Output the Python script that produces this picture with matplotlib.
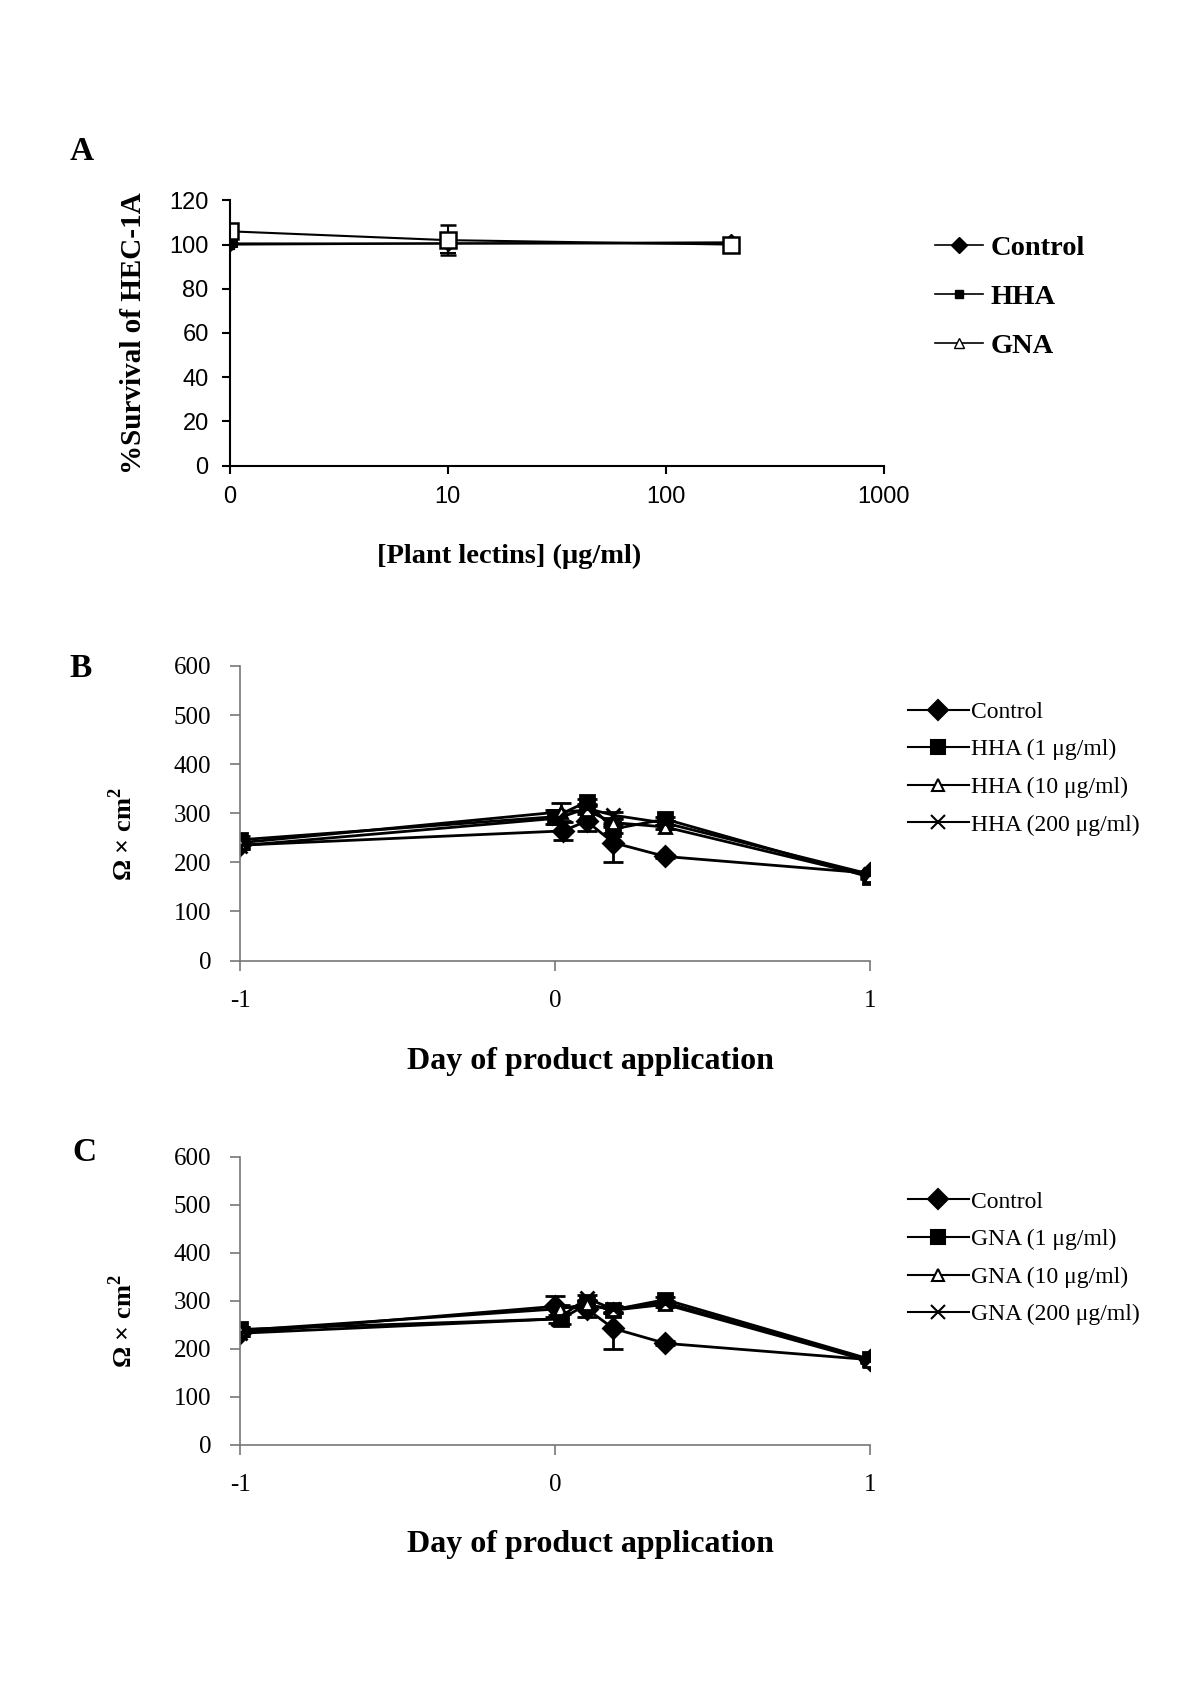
"""
Lectin toxicity on HEC-1A cells and transepithelial resistance (panels A-C)
"""

import matplotlib.pyplot as plt
from matplotlib.lines import Line2D
import numpy as np

# ---- Panel A: survival vs lectin concentration
conc = np.array([0, 10, 200])
surv_control = [100.5, 100.5, 101]
surv_control_err = [1, 4.5, 1]
surv_hha = [100, 100.5, 100.5]
surv_hha_err = [1, 1, 1]
surv_gna = [106, 102, 100]
surv_gna_err = [1.5, 6.7, 1]
a_xticks = [1, 10, 100, 1000]
a_xticklabels = ['0', '10', '100', '1000']
a_legend = ['Control', 'HHA', 'GNA']

# ---- Panel B: TEER with HHA
b_labels = ['Control', 'HHA (1 \u03bcg/ml)', 'HHA (10 \u03bcg/ml)', 'HHA (200 \u03bcg/ml)']
b_x = [[-1, 0.025, 0.1, 0.185, 0.35, 1],
       [-1, 0.0, 0.1, 0.185, 0.35, 1],
       [-1, 0.02, 0.1, 0.185, 0.35, 1],
       [-1, 0.01, 0.1, 0.185, 0.35, 1]]
b_y = [[235, 264, 284, 240, 212, 178],
       [246, 293, 323, 268, 288, 170],
       [240, 303, 306, 281, 272, 172],
       [234, 290, 310, 296, 280, 176]]
b_err = [[8, 18, 20, 40, 4, 4],
         [8, 14, 6, 8, 4, 4],
         [8, 18, 8, 8, 4, 4],
         [6, 8, 8, 6, 4, 4]]

# ---- Panel C: TEER with GNA
c_labels = ['Control', 'GNA (1 \u03bcg/ml)', 'GNA (10 \u03bcg/ml)', 'GNA (200 \u03bcg/ml)']
c_x = [[-1, 0.0, 0.1, 0.185, 0.35, 1],
       [-1, 0.02, 0.1, 0.185, 0.35, 1],
       [-1, 0.015, 0.1, 0.185, 0.35, 1],
       [-1, 0.01, 0.1, 0.185, 0.35, 1]]
c_y = [[233, 288, 283, 242, 211, 177],
       [240, 262, 292, 281, 302, 178],
       [238, 283, 292, 280, 292, 174],
       [232, 262, 305, 282, 296, 176]]
c_err = [[6, 22, 18, 42, 4, 4],
         [6, 10, 8, 6, 6, 4],
         [6, 8, 8, 6, 6, 4],
         [6, 8, 6, 6, 4, 4]]

day_ticks = [-1, 0, 1]
teer_ticks = [0, 100, 200, 300, 400, 500, 600]

SERIF = 'Liberation Serif'
SANS = 'Liberation Sans'

plt.rcParams['axes.unicode_minus'] = False
plt.rcParams['mathtext.fontset'] = 'custom'
plt.rcParams['mathtext.bf'] = 'Liberation Serif:bold'

fig = plt.figure(figsize=(12, 16.98), dpi=100)

# ================= Panel A =================
axA = fig.add_axes([0.1913, 0.7258, 0.5452, 0.1562])
xpos = np.where(conc == 0, 1, conc)
axA.errorbar(xpos, surv_control, yerr=surv_control_err, color='black', marker='D',
             markersize=8, linewidth=1.5, capsize=6, capthick=1.5, mfc='black')
axA.errorbar(xpos, surv_hha, yerr=surv_hha_err, color='black', marker='s',
             markersize=6, linewidth=1.5, capsize=6, capthick=1.5, mfc='black')
axA.errorbar(xpos, surv_gna, yerr=surv_gna_err, color='black', marker='s',
             markersize=11, linewidth=1.5, capsize=6, capthick=1.5, mfc='white',
             mew=1.8)
axA.set_xscale('log')
axA.set_xlim(1, 1000)
axA.set_ylim(0, 120)
axA.set_xticks(a_xticks)
axA.set_xticklabels(a_xticklabels)
axA.minorticks_off()
axA.set_yticks(range(0, 121, 20))
for s in ['top', 'right']:
    axA.spines[s].set_visible(False)
for s in ['left', 'bottom']:
    axA.spines[s].set_linewidth(1.5)
axA.tick_params(axis='both', direction='out', length=6, width=1.5, labelsize=17,
                pad=9)
for lab in axA.get_xticklabels() + axA.get_yticklabels():
    lab.set_fontfamily(SANS)
axA.set_ylabel('%Survival of HEC-1A', fontsize=21, fontweight='bold',
               fontfamily=SERIF, labelpad=16)
fig.text(470 / 1108, 1 - 514 / 1568, '[Plant lectins] (\u03bcg/ml)', fontsize=20.5,
         fontweight='bold', fontfamily=SERIF, ha='center', va='center')
handlesA = [Line2D([], [], color='black', marker='D', markersize=8, lw=1.2),
            Line2D([], [], color='black', marker='s', markersize=6, lw=1.2),
            Line2D([], [], color='black', marker='^', markersize=7, lw=1.2,
                   mfc='white')]
axA.legend(handlesA, a_legend, loc='upper left', bbox_to_anchor=(1.078, 0.87),
           frameon=False, handlelength=1.7, handletextpad=0.25,
           labelspacing=0.82, borderpad=0, borderaxespad=0,
           prop={'family': SERIF, 'weight': 'bold', 'size': 20.5})

fig.text(0.058, 1 - 140 / 1568, 'A', fontsize=24, fontweight='bold',
         fontfamily=SERIF, va='center')


def teer_panel(ax, xs, ys, errs, labels, leg_top):
    markers = [('D', 10, 'black'), ('s', 10, 'black'), ('^', 8, 'white'),
               ('x', 10, 'black')]
    handles = []
    for x, y, e, (m, ms, fc) in zip(xs, ys, errs, markers):
        ax.errorbar(x, y, yerr=e, color='black', marker=m, markersize=ms,
                    mfc=fc, mew=2, linewidth=2, capsize=7, capthick=2)
        handles.append(Line2D([], [], color='black', marker=m, markersize=ms,
                              mfc=fc, mew=1.5, lw=1.5))
    ax.set_xlim(-1, 1)
    ax.set_ylim(0, 600)
    ax.set_xticks(day_ticks)
    ax.set_yticks(teer_ticks)
    for s in ['top', 'right']:
        ax.spines[s].set_visible(False)
    for s in ['left', 'bottom']:
        ax.spines[s].set_color('#777777')
        ax.spines[s].set_linewidth(1.2)
    ax.tick_params(axis='both', direction='out', length=7, width=1.2,
                   color='#777777', labelsize=18, pad=14)
    for lab in ax.get_xticklabels() + ax.get_yticklabels():
        lab.set_fontfamily(SERIF)
    ax.set_xlabel('Day of product application', fontsize=23, fontweight='bold',
                  fontfamily=SERIF)
    ax.xaxis.set_label_coords(0.556, -0.295)
    ax.set_ylabel('\u03a9 \u00d7 cm$^{\\mathbf{2}}$', fontsize=19, fontweight='bold',
                  fontfamily=SERIF)
    ax.yaxis.set_label_coords(-0.165, 0.43)
    ax.legend(handles, labels, loc='upper left', bbox_to_anchor=(1.06, leg_top),
              frameon=False, handlelength=2.6, handletextpad=0.1,
              labelspacing=0.68, borderpad=0, borderaxespad=0,
              prop={'family': SERIF, 'size': 17})


# ================= Panel B =================
axB = fig.add_axes([0.2004, 0.4343, 0.5244, 0.1735])
teer_panel(axB, b_x, b_y, b_err, b_labels, 0.88)
fig.text(0.058, 1 - 617 / 1568, 'B', fontsize=24, fontweight='bold',
         fontfamily=SERIF, va='center')

# ================= Panel C =================
axC = fig.add_axes([0.2004, 0.1492, 0.5244, 0.1697])
teer_panel(axC, c_x, c_y, c_err, c_labels, 0.88)
fig.text(0.06, 1 - 1064 / 1568, 'C', fontsize=24, fontweight='bold',
         fontfamily=SERIF, va='center')

fig.savefig('out.png', dpi=100)
